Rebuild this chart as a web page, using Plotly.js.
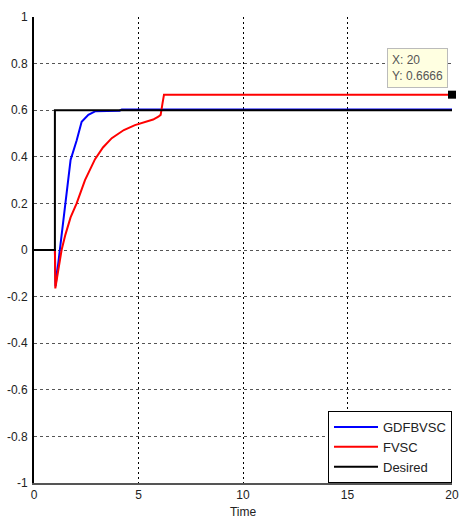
<!DOCTYPE html>
<html>
<head>
<meta charset="utf-8">
<script src="https://cdn.plot.ly/plotly-3.0.1.min.js"></script>
<style>
  html, body { margin: 0; padding: 0; background: #fff; }
  #grafico { width: 463px; height: 527px; }
</style>
</head>
<body>
<div id="grafico"></div>
<script>
// Dados
const tempoGdfb = [0, 1, 1.03, 1.24, 1.48, 1.75, 2.04, 2.28, 2.6, 2.92, 3.5, 4.1, 4.2, 20];
const saidaGdfb = [0, 0, -0.155, 0.0, 0.2, 0.386, 0.47, 0.55, 0.58, 0.595, 0.597, 0.598, 0.603, 0.603];

const tempoFvsc = [0, 1, 1.02, 1.15, 1.32, 1.5, 1.75, 2.04, 2.44, 2.92, 3.3, 3.72, 4.3, 4.83, 5.4, 5.7, 5.95, 6.06, 6.15, 6.22, 20];
const saidaFvsc = [0, 0, -0.165, -0.09, 0.0, 0.065, 0.14, 0.2, 0.3, 0.39, 0.44, 0.48, 0.515, 0.536, 0.55, 0.56, 0.572, 0.58, 0.63, 0.6666, 0.6666];

const tempoDesejado = [0, 1, 1, 20];
const saidaDesejado = [0, 0, 0.6, 0.6];

const tipX = [20];
const tipY = [0.6666];

const xTicks = [0, 5, 10, 15, 20];
const yTicks = [-1, -0.8, -0.6, -0.4, -0.2, 0, 0.2, 0.4, 0.6, 0.8, 1];

const fonte = { family: 'Arial, "Liberation Sans", sans-serif', size: 12, color: '#222' };

const traces = [
  {
    x: tempoGdfb, y: saidaGdfb, name: 'GDFBVSC', mode: 'lines', type: 'scatter',
    line: { color: '#0000ff', width: 2 }
  },
  {
    x: tempoFvsc, y: saidaFvsc, name: 'FVSC', mode: 'lines', type: 'scatter',
    line: { color: '#ff0000', width: 2 }
  },
  {
    x: tempoDesejado, y: saidaDesejado, name: 'Desired', mode: 'lines', type: 'scatter',
    line: { color: '#000000', width: 2 }
  },
  {
    x: tipX, y: tipY, mode: 'markers', type: 'scatter', showlegend: false,
    marker: { symbol: 'square', size: 8, color: '#000' }, cliponaxis: false
  }
];

const layout = {
  width: 463,
  height: 527,
  margin: { l: 34, r: 11, t: 17, b: 44 },
  paper_bgcolor: '#fff',
  plot_bgcolor: '#fff',
  font: fonte,
  showlegend: true,
  legend: {
    x: 1, y: 0, xanchor: 'right', yanchor: 'bottom',
    bgcolor: '#fff', bordercolor: '#000', borderwidth: 1,
    font: { family: 'Arial, "Liberation Sans", sans-serif', size: 13, color: '#222' },
    tracegroupgap: 0, itemwidth: 44
  },
  xaxis: {
    range: [0, 20], tickvals: xTicks, ticktext: xTicks.map(String),
    showgrid: true, gridcolor: '#000', griddash: '2px,3px', gridwidth: 1,
    zeroline: false, showline: true, linecolor: '#555', linewidth: 2,
    ticks: '', title: { text: 'Time', font: fonte, standoff: 6 }
  },
  yaxis: {
    range: [-1, 1], tickvals: yTicks, ticktext: yTicks.map(String),
    showgrid: true, gridcolor: '#555', griddash: '3px,3px', gridwidth: 1,
    zeroline: false, showline: true, linecolor: '#000', linewidth: 2,
    ticks: '', ticklabelstandoff: 2
  },
  annotations: [{
    x: tipX[0], y: tipY[0], xref: 'x', yref: 'y',
    text: 'X: 20<br>Y: 0.6666', showarrow: false, align: 'left',
    xshift: -35, yshift: 27,
    bgcolor: '#ffffe1', bordercolor: '#bbb', borderwidth: 1, borderpad: 4,
    font: { family: 'Arial, "Liberation Sans", sans-serif', size: 12, color: '#555' }
  }]
};

Plotly.newPlot('grafico', traces, layout, { displayModeBar: false, staticPlot: true });
</script>
</body>
</html>
